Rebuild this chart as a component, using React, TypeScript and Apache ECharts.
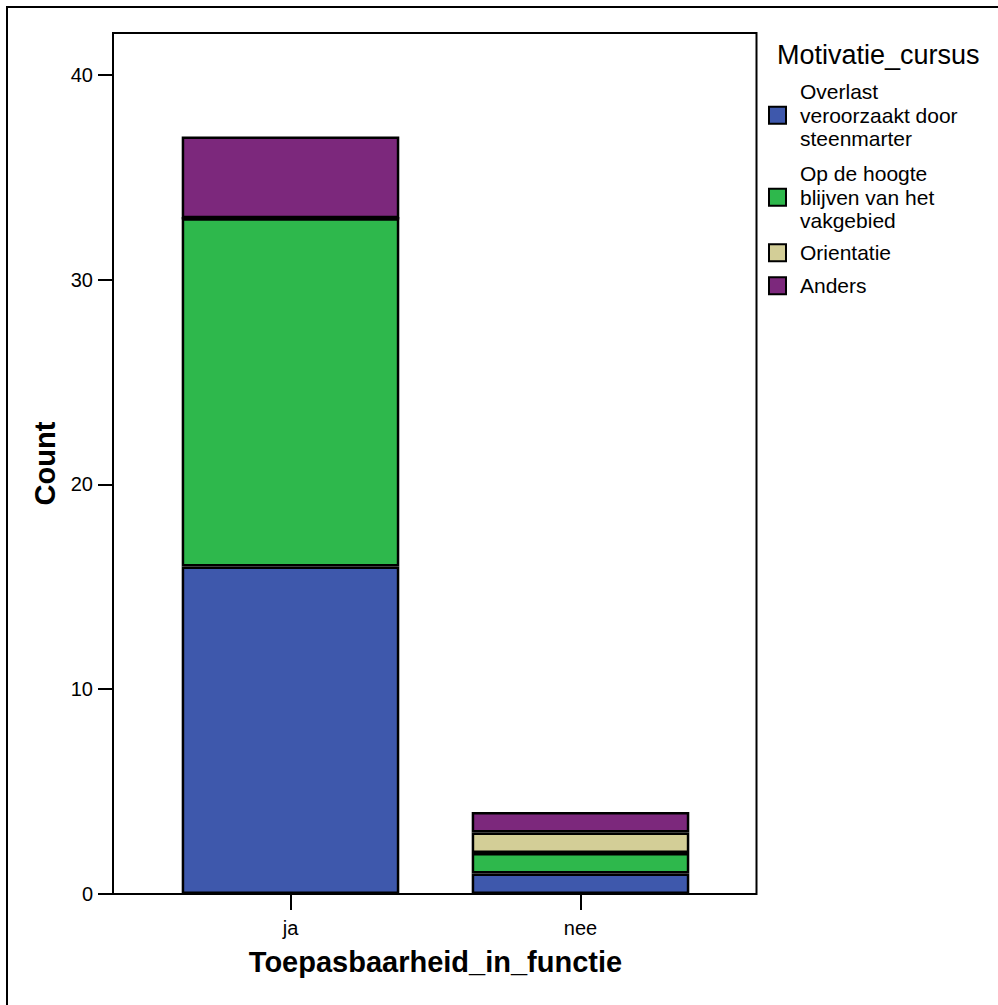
import React, { useEffect, useRef } from "react";
import * as echarts from "echarts";

const categories = ["ja", "nee"];
const seriesNames = [
  "Overlast\nveroorzaakt door\nsteenmarter",
  "Op de hoogte\nblijven van het\nvakgebied",
  "Orientatie",
  "Anders",
];
const overlast = [16, 1];
const opDeHoogte = [17, 1];
const orientatie = [0, 1];
const anders = [4, 1];
const seriesValues = [overlast, opDeHoogte, orientatie, anders];
const colors = ["#3E58AC", "#2EB84C", "#D3CE97", "#7C287C"];
const yTicks = [0, 10, 20, 30, 40];
const legendTops = [80, 162, 241, 274];

const FONT = "'Liberation Sans', Arial, Helvetica, sans-serif";

export default function App() {
  const ref = useRef<HTMLDivElement>(null);
  useEffect(() => {
    if (!ref.current) return;
    const chart = echarts.init(ref.current, null, { renderer: "svg" });
    const series = seriesValues.map((vals, i) => ({
      name: seriesNames[i],
      type: "bar",
      stack: "total",
      barWidth: 217.6,
      data: vals,
      itemStyle: { color: colors[i], borderColor: "#000", borderWidth: 2.5 },
    }));
    const legends = seriesNames.map((n, i) => ({
      data: [n],
      orient: "vertical",
      left: 768,
      top: legendTops[i],
      padding: 0,
      icon: "rect",
      itemWidth: 17,
      itemHeight: 17,
      selectedMode: false,
      textStyle: {
        fontSize: 21,
        lineHeight: 23.5,
        color: "#000",
        fontFamily: FONT,
        padding: [0, 0, 0, 9],
      },
    }));
    chart.setOption({
      animation: false,
      backgroundColor: "#fff",
      textStyle: { fontFamily: FONT },
      title: {
        text: "Motivatie_cursus",
        left: 777,
        top: 41,
        padding: 0,
        textStyle: { fontSize: 27, fontWeight: "normal", color: "#000", fontFamily: FONT },
      },
      legend: legends,
      grid: { left: 145.5, top: 33, right: 272.5, bottom: 111, containLabel: false },
      xAxis: {
        type: "category",
        data: categories,
        boundaryGap: true,
        axisLine: { show: true, lineStyle: { color: "#000", width: 2 } },
        axisTick: { show: true, alignWithLabel: true, length: 16, lineStyle: { color: "#000", width: 2 } },
        axisLabel: {
          fontSize: 20,
          color: "#000",
          margin: 24,
          fontFamily: FONT,
        },
        name: "Toepasbaarheid_in_functie",
        nameLocation: "middle",
        nameGap: 53,
        nameTextStyle: { fontSize: 29, fontWeight: "bold", color: "#000", fontFamily: FONT },
      },
      yAxis: {
        type: "value",
        min: 0,
        max: 42.05,
        interval: 10,
        offset: 32.5,
        splitLine: { show: false },
        axisLine: { show: true, lineStyle: { color: "#000", width: 2 } },
        axisTick: { show: true, length: 15, customValues: yTicks, lineStyle: { color: "#000", width: 2 } },
        axisLabel: {
          customValues: yTicks,
          fontSize: 20,
          color: "#000",
          margin: 20,
          fontFamily: FONT,
        },
        name: "Count",
        nameLocation: "middle",
        nameRotate: 90,
        nameGap: 50,
        nameTextStyle: { fontSize: 29, fontWeight: "bold", color: "#000", fontFamily: FONT },
      },
      graphic: [
        {
          type: "rect",
          shape: { x: 113, y: 33, width: 643.5, height: 861 },
          style: { fill: "none", stroke: "#000", lineWidth: 2 },
          silent: true,
          z: 10,
        },
        {
          type: "rect",
          shape: { x: 7, y: 7, width: 1010, height: 1020 },
          style: { fill: "none", stroke: "#000", lineWidth: 2 },
          silent: true,
          z: 10,
        },
      ],
      series,
    });
    return () => chart.dispose();
  }, []);
  return (
    <div
      ref={ref}
      style={{ position: "absolute", left: 0, top: 0, width: 998, height: 1005, background: "#fff" }}
    />
  );
}
